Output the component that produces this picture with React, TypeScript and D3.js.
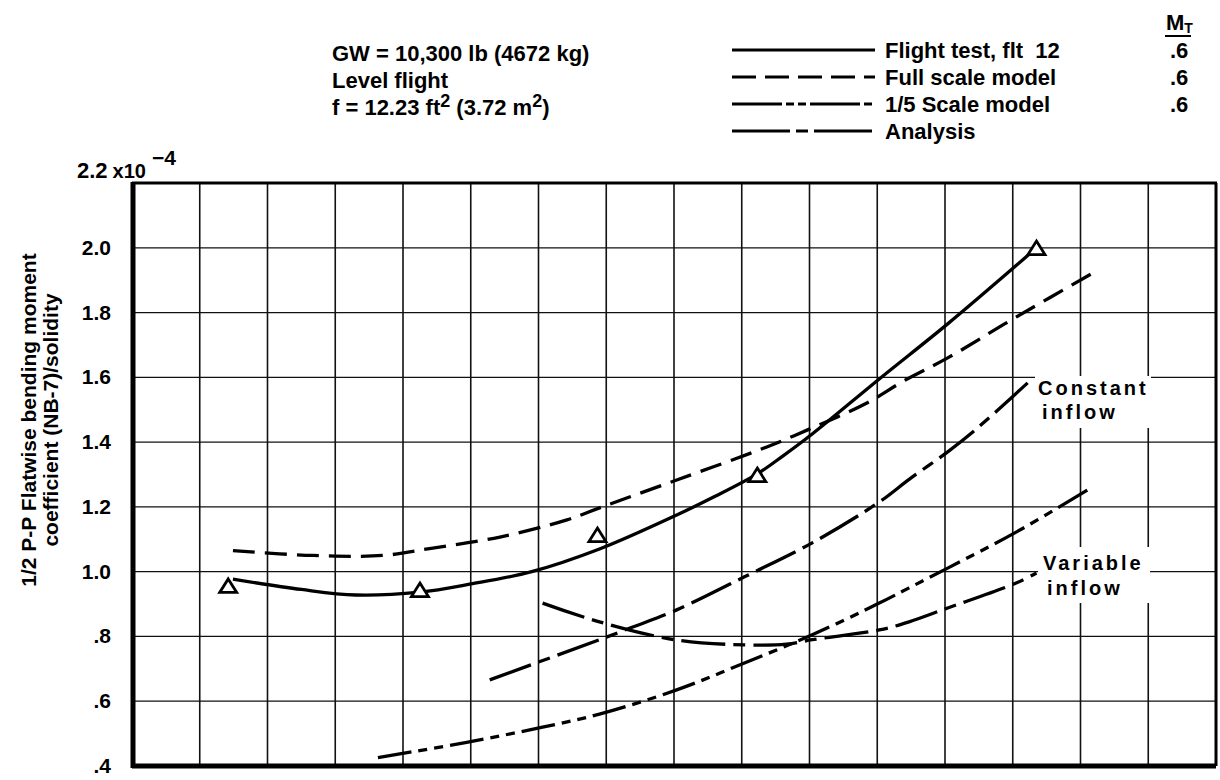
import React from "react";
import * as d3 from "d3";

// y axis ticks (coefficient x 10^-4)
const yTickValues = [0.4, 0.6, 0.8, 1.0, 1.2, 1.4, 1.6, 1.8, 2.0];
const yTickLabels = [".4", ".6", ".8", "1.0", "1.2", "1.4", "1.6", "1.8", "2.0"];

// flight test, flt 12 (faired curve + test points)
const flightX = [1.49, 2.5, 3.3, 4.25, 5.0, 5.9, 6.9, 8.04, 8.6, 9.23, 9.6, 10.04, 11.03, 12.04, 13.05, 13.35];
const flightY = [0.977, 0.945, 0.928, 0.937, 0.962, 1.0, 1.07, 1.175, 1.232, 1.302, 1.356, 1.425, 1.595, 1.765, 1.945, 2.0];
const pointX = [1.42, 4.25, 6.87, 9.23, 13.35];
const pointY = [0.953, 0.94, 1.11, 1.295, 1.996];

// full scale model
const fullX = [1.49, 2.67, 3.7, 4.44, 5.43, 6.42, 6.9, 8.04, 9.37, 10.04, 10.84, 11.4, 12.04, 13.05, 14.25];
const fullY = [1.065, 1.05, 1.05, 1.073, 1.107, 1.16, 1.197, 1.283, 1.385, 1.444, 1.52, 1.59, 1.66, 1.786, 1.93];

// 1/5 scale model
const smallX = [3.63, 4.94, 6.06, 6.9, 8.04, 9.04, 10.04, 11.03, 11.47, 12.04, 13.05, 14.1];
const smallY = [0.426, 0.473, 0.52, 0.56, 0.635, 0.718, 0.805, 0.903, 0.95, 1.011, 1.122, 1.252];

// analysis, constant inflow
const constX = [5.28, 6.9, 7.39, 8.04, 9.04, 10.04, 11.03, 11.47, 12.04, 12.46, 13.22];
const constY = [0.666, 0.79, 0.829, 0.882, 0.984, 1.089, 1.215, 1.285, 1.37, 1.44, 1.583];

// analysis, variable inflow
const varX = [6.06, 6.9, 8.04, 9.04, 9.66, 10.04, 11.03, 11.47, 12.04, 13.05, 13.35];
const varY = [0.903, 0.845, 0.789, 0.774, 0.776, 0.79, 0.82, 0.845, 0.888, 0.965, 0.996];

const legendLabels = ["Flight test, flt  12", "Full scale model", "1/5 Scale model", "Analysis"];
const legendMach = [".6", ".6", ".6", ""];
const legendDash = ["none", "24,9", "50,4,8,4,8,4", "58,6,12,6"];

const W = 1220;
const H = 780;
const FONT = "'Liberation Sans', Arial, Helvetica, sans-serif";

export default function App() {
  const x = d3.scaleLinear().domain([0, 16]).range([132, 1216]);
  const y = d3.scaleLinear().domain([0.4, 2.2]).range([766, 183]);

  const line = d3
    .line<[number, number]>()
    .x((d) => x(d[0]))
    .y((d) => y(d[1]))
    .curve(d3.curveCatmullRom.alpha(0.5));

  const zip = (xs: number[], ys: number[]) => xs.map((v, i) => [v, ys[i]] as [number, number]);

  const curves = [
    { pts: zip(flightX, flightY), dash: "none" },
    { pts: zip(fullX, fullY), dash: "22,10" },
    { pts: zip(smallX, smallY), dash: "34,7,9,7,9,7" },
    { pts: zip(constX, constY), dash: "44,8,12,8" },
    { pts: zip(varX, varY), dash: "44,8,12,8" },
  ];

  const xGrid = x.ticks(16);
  const yGrid = y.ticks(9);

  const tri = "M0,-8 L8.5,5.5 L-8.5,5.5 Z";

  return (
    <svg
      width={W}
      height={H}
      style={{ position: "absolute", left: 0, top: 0, background: "#fff" }}
      fontFamily={FONT}
      fontWeight="bold"
    >
      <rect width={W} height={H} fill="#fff" />

      {/* grid */}
      <g stroke="#111">
        {xGrid.map((v) => (
          <line key={"vx" + v} x1={x(v)} x2={x(v)} y1={y(2.2)} y2={y(0.4)} strokeWidth={1.6} />
        ))}
        {yGrid.map((v) => (
          <line key={"hy" + v} x1={x(0)} x2={x(16)} y1={y(v)} y2={y(v)} strokeWidth={1.3} />
        ))}
      </g>

      {/* label backgrounds break the grid */}
      <rect x={1035} y={376} width={116} height={52} fill="#fff" />
      <rect x={1038} y={547} width={112} height={56} fill="#fff" />

      {/* frame */}
      <line x1={x(0) + 1} x2={x(0) + 1} y1={y(2.2) - 1} y2={y(0.4) + 2} stroke="#000" strokeWidth={5} />
      <line x1={x(0)} x2={x(16)} y1={y(0.4)} y2={y(0.4)} stroke="#000" strokeWidth={5} />
      <line x1={x(0)} x2={x(16) + 1} y1={y(2.2)} y2={y(2.2)} stroke="#000" strokeWidth={3} />
      <line x1={x(16)} x2={x(16)} y1={y(2.2)} y2={y(0.4)} stroke="#000" strokeWidth={3} />

      {/* curves */}
      <g fill="none" stroke="#000" strokeWidth={3.3}>
        {curves.map((c, i) => (
          <path key={i} d={line(c.pts) || ""} strokeDasharray={c.dash} />
        ))}
      </g>

      {/* flight test points */}
      {pointX.map((v, i) => (
        <path
          key={"p" + i}
          d={tri}
          transform={`translate(${x(v)},${y(pointY[i])})`}
          fill="#fff"
          stroke="#000"
          strokeWidth={2.8}
          strokeLinejoin="miter"
        />
      ))}

      {/* curve labels */}
      <g fontSize={20} letterSpacing={3}>
        <text x={1038} y={395}>Constant</text>
        <text x={1042} y={419}>inflow</text>
        <text x={1043} y={570}>Variable</text>
        <text x={1047} y={595}>inflow</text>
      </g>

      {/* y axis labels */}
      <g fontSize={21} textAnchor="end">
        {yTickValues.map((v, i) => (
          <text key={"yt" + v} x={111} y={y(v) + 7}>
            {yTickLabels[i]}
          </text>
        ))}
      </g>
      <text x={77} y={178} fontSize={22}>
        2.2
        <tspan dx={5} fontSize={20}>x10</tspan>
        <tspan dx={6} dy={-13} fontSize={21}>−4</tspan>
      </text>
      <g fontSize={21} textAnchor="middle">
        <text transform="translate(36,420) rotate(-90)">1/2 P-P Flatwise bending moment</text>
        <text transform="translate(58,420) rotate(-90)">coefficient (NB-7)/solidity</text>
      </g>

      {/* flight condition */}
      <g fontSize={22}>
        <text x={332} y={61}>GW = 10,300 lb (4672 kg)</text>
        <text x={332} y={88}>Level flight</text>
        <text x={332} y={115}>
          f = 12.23 ft<tspan dy={-8} fontSize={18}>2</tspan>
          <tspan dy={8}> (3.72 m</tspan>
          <tspan dy={-8} fontSize={18}>2</tspan>
          <tspan dy={8}>)</tspan>
        </text>
      </g>

      {/* legend */}
      <g fontSize={22}>
        <text x={1166} y={30}>
          M<tspan fontSize={14} dy={3}>T</tspan>
        </text>
        <line x1={1165} x2={1191} y1={36} y2={36} stroke="#000" strokeWidth={2} />
        {legendLabels.map((lab, i) => {
          const cy = 50 + i * 27;
          return (
            <g key={lab}>
              <line
                x1={732}
                x2={875}
                y1={cy}
                y2={cy}
                stroke="#000"
                strokeWidth={3}
                strokeDasharray={legendDash[i]}
              />
              <text x={885} y={cy + 8} style={{ whiteSpace: "pre" }}>
                {lab}
              </text>
              <text x={1170} y={cy + 8}>
                {legendMach[i]}
              </text>
            </g>
          );
        })}
      </g>
    </svg>
  );
}
